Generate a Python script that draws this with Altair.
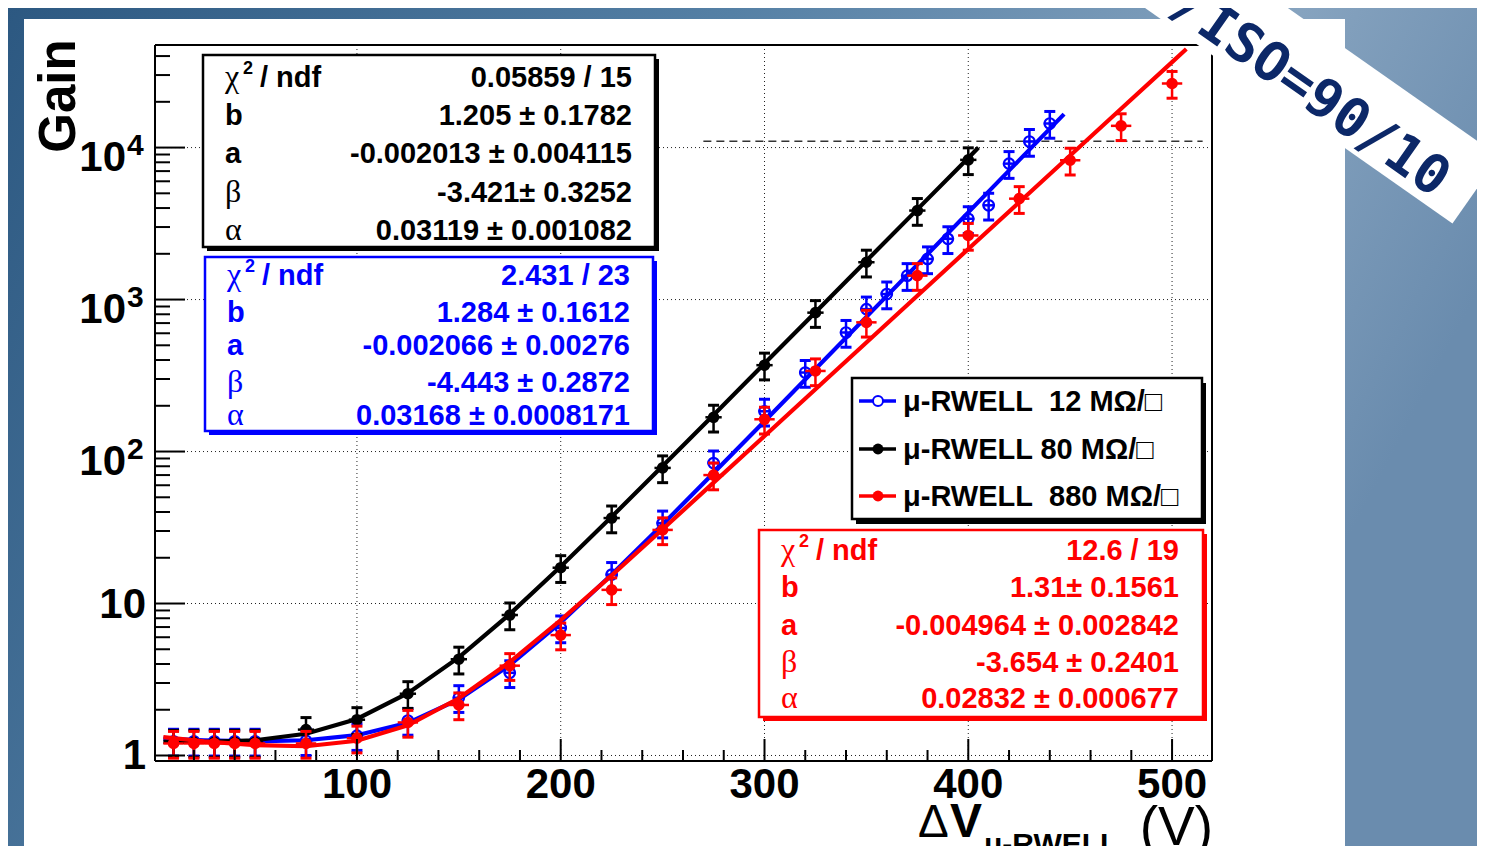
import altair as alt
import pandas as pd

# ---------------- data ----------------
# mu-RWELL 12 MOhm/sq (blue, open circles)
V_12 = [10, 20, 30, 40, 50, 75, 100, 125, 150, 175, 200, 225, 250, 275, 300,
        320, 340, 350, 360, 370, 380, 390, 400, 410, 420, 430, 440]
G_12 = [1.24, 1.24, 1.24, 1.24, 1.24, 1.25, 1.35, 1.70, 2.40, 3.50, 6.9, 15.5, 33.8, 84, 184,
        331, 607, 865, 1087, 1436, 1850, 2510, 3400, 4170, 7840, 10960, 14400]
# mu-RWELL 80 MOhm/sq (black)
V_80 = [10, 20, 30, 40, 50, 75, 100, 125, 150, 175, 200, 225, 250, 275, 300, 325, 350, 375, 400]
G_80 = [1.22, 1.22, 1.22, 1.22, 1.22, 1.48, 1.72, 2.55, 4.3, 8.4, 17.2, 36.5, 78, 168, 370,
        820, 1760, 3850, 8300]
# mu-RWELL 880 MOhm/sq (red)
V_880 = [10, 20, 30, 40, 50, 75, 100, 125, 150, 175, 200, 225, 250, 275, 300, 325, 350, 375,
         400, 425, 450, 475, 500]
G_880 = [1.20, 1.20, 1.20, 1.20, 1.20, 1.20, 1.30, 1.65, 2.15, 3.90, 6.2, 12.3, 30.5, 70, 163,
         339, 708, 1437, 2640, 4610, 8250, 13900, 26400]

# fitted curves
FIT_V_12 = [5, 25, 50, 75, 100, 125, 150, 175, 200, 225, 250, 275, 300, 325, 350, 375, 400, 425, 447]
FIT_G_12 = [1.29, 1.26, 1.24, 1.26, 1.36, 1.64, 2.34, 3.93, 7.51, 15.5, 33.1, 72.2, 158, 349, 769,
            1697, 3746, 8270, 16600]
FIT_V_80 = [5, 10, 25, 50, 75, 100, 125, 150, 175, 200, 225, 250, 275, 300, 325, 350, 375, 400, 405]
FIT_G_80 = [1.23, 1.23, 1.23, 1.26, 1.39, 1.74, 2.57, 4.42, 8.52, 17.5, 37.2, 80.3, 174, 379, 825,
            1800, 3920, 8550, 10000]
FIT_V_880 = [5, 25, 50, 75, 100, 125, 150, 175, 200, 225, 250, 275, 300, 325, 350, 375, 400, 425,
             450, 475, 500, 507]
FIT_G_880 = [1.32, 1.24, 1.17, 1.15, 1.25, 1.58, 2.38, 4.12, 7.78, 15.3, 30.8, 62.4, 126.5, 257, 522,
             1060, 2150, 4370, 8870, 18000, 36500, 44500]

REL_ERR = 0.2          # relative gain error (vertical bars)
V_ERR_12, V_ERR_80, V_ERR_880 = 3, 4, 5   # voltage error (horizontal bars)

DASH_V = [270, 515]
DASH_G = [11000, 11000]

X_MAJOR = [100, 200, 300, 400, 500]
X_LABELS = ["100", "200", "300", "400", "500"]
X_MINOR = [20, 40, 60, 80, 120, 140, 160, 180, 220, 240, 260, 280, 320, 340, 360, 380,
           420, 440, 460, 480]
Y_MAJOR = [1, 10, 100, 1000, 10000]
Y_BASE = ["1", "10", "10", "10", "10"]
Y_SUP = ["", "", "2", "3", "4"]
Y_MINOR = [2, 3, 4, 5, 6, 7, 8, 9, 20, 30, 40, 50, 60, 70, 80, 90,
           200, 300, 400, 500, 600, 700, 800, 900,
           2000, 3000, 4000, 5000, 6000, 7000, 8000, 9000, 20000, 30000, 40000]

PAR_NAMES = ["χ2", "b", "a", "β", "α"]
VAL_80 = ["0.05859 / 15", "1.205 ± 0.1782", "-0.002013 ± 0.004115", "-3.421± 0.3252", "0.03119 ± 0.001082"]
VAL_12 = ["2.431 / 23", "1.284 ± 0.1612", "-0.002066 ± 0.00276", "-4.443 ± 0.2872", "0.03168 ± 0.0008171"]
VAL_880 = ["12.6 / 19", "1.31± 0.1561", "-0.004964 ± 0.002842", "-3.654 ± 0.2401", "0.02832 ± 0.000677"]

LEGEND = ["μ-RWELL\u00a0 12 MΩ/□", "μ-RWELL 80 MΩ/□", "μ-RWELL\u00a0 880 MΩ/□"]
BANNER = "/ISO=90/10"

BLUE, BLACK, RED = "#0000ff", "#000000", "#ff0000"

# ---------------- layout helpers ----------------
FONT = "Liberation Sans, Arial, DejaVu Sans"
SERIF = "Liberation Serif, DejaVu Serif"
OX, OY = 155, 45          # page position of the plot origin
W, H = 1057, 716

XS = alt.Scale(domain=[0.9, 519.6], nice=False, zero=False)
YS = alt.Scale(type="log", domain=[0.92, 47300], nice=False)


def X(f):
    return alt.X(f, type="quantitative", scale=XS, axis=None)


def Y(f):
    return alt.Y(f, type="quantitative", scale=YS, axis=None)


ONE = pd.DataFrame({"k": [0]})


def px(x):
    return x - OX


def py(y):
    return y - OY


def text(s, x, y, size=27, weight="bold", align="left", color="black",
         baseline="alphabetic", font=FONT, angle=0):
    kw = dict(text=s, fontSize=size, fontWeight=weight, align=align,
              baseline=baseline, color=color, font=font)
    if angle:
        kw["angle"] = angle
    return alt.Chart(ONE).mark_text(**kw).encode(x=alt.value(px(x)), y=alt.value(py(y)))


def rect(x0, y0, x1, y1, fill, stroke=None, sw=0):
    kw = dict(fill=fill)
    if stroke:
        kw["stroke"] = stroke
        kw["strokeWidth"] = sw
    return alt.Chart(ONE).mark_rect(**kw).encode(
        x=alt.value(px(x0)), x2=alt.value(px(x1)), y=alt.value(py(y0)), y2=alt.value(py(y1)))


def seg(x0, y0, x1, y1, color="black", sw=2, dash=None):
    kw = dict(color=color, strokeWidth=sw, strokeCap="butt")
    if dash:
        kw["strokeDash"] = dash
    return alt.Chart(ONE).mark_rule(**kw).encode(
        x=alt.value(px(x0)), x2=alt.value(px(x1)), y=alt.value(py(y0)), y2=alt.value(py(y1)))


layers = []

# slide background + white panel
grad = alt.LinearGradient(
    gradient="linear", x1=0, x2=1, y1=0, y2=0.3,
    stops=[alt.GradientStop(offset=0, color="#2c5881"),
           alt.GradientStop(offset=0.45, color="#5580a5"),
           alt.GradientStop(offset=0.8, color="#86a3bf"),
           alt.GradientStop(offset=1, color="#6a8cae")])
layers.append(alt.Chart(ONE).mark_rect(fill=grad).encode(
    x=alt.value(-150), x2=alt.value(1340), y=alt.value(-40), y2=alt.value(810)))
layers.append(rect(24, 19, 1345, 860, "white"))

# grid
gx = pd.DataFrame({"v": X_MAJOR})
gy = pd.DataFrame({"g": Y_MAJOR})
layers.append(alt.Chart(gx).mark_rule(color="#222", strokeWidth=1, strokeDash=[1, 3]).encode(
    x=X("v"), y=alt.value(0), y2=alt.value(H)))
layers.append(alt.Chart(gy).mark_rule(color="#222", strokeWidth=1, strokeDash=[1, 3]).encode(
    y=Y("g"), x=alt.value(0), x2=alt.value(W)))

# dashed reference line
layers.append(alt.Chart(pd.DataFrame({"V": DASH_V, "G": DASH_G})).mark_line(
    color="#333", strokeWidth=1.5, strokeDash=[8, 5]).encode(x=X("V"), y=Y("G")))


def series(V, G, FV, FG, color, filled, vx):
    d = pd.DataFrame({"V": V, "G": G})
    d["lo"] = d["G"] * (1 - REL_ERR)
    d["hi"] = d["G"] * (1 + REL_ERR)
    d["vl"] = d["V"] - vx
    d["vr"] = d["V"] + vx
    f = pd.DataFrame({"V": FV, "G": FG})
    b = alt.Chart(d)
    return [
        b.mark_rule(color=color, strokeWidth=2.5).encode(x=X("V"), y=Y("lo"), y2="hi:Q"),
        b.mark_rule(color=color, strokeWidth=2.5).encode(x=X("vl"), x2="vr:Q", y=Y("G")),
        b.mark_tick(orient="horizontal", color=color, size=11, thickness=3, opacity=1).encode(
            x=X("V"), y=Y("hi")),
        b.mark_tick(orient="horizontal", color=color, size=11, thickness=3, opacity=1).encode(
            x=X("V"), y=Y("lo")),
        b.mark_point(shape="circle", filled=filled, size=135 if filled else 110, color=color,
                     strokeWidth=2.2, opacity=1).encode(x=X("V"), y=Y("G")),
        alt.Chart(f).mark_line(color=color, strokeWidth=4.2).encode(x=X("V"), y=Y("G")),
    ]


layers += series(V_12, G_12, FIT_V_12, FIT_G_12, BLUE, False, V_ERR_12)
layers += series(V_80, G_80, FIT_V_80, FIT_G_80, BLACK, True, V_ERR_80)
layers += series(V_880, G_880, FIT_V_880, FIT_G_880, RED, True, V_ERR_880)

VS = 29  # stats value font size


# stats boxes
def stats_box(box, left, right, baselines, values, color):
    x0, y0, x1, y1 = box
    out = [rect(x0 + 4, y0 + 4, x1 + 4, y1 + 4, color),
           rect(x0, y0, x1, y1, "white", color, 2.5)]
    for name, val, yb in zip(PAR_NAMES, values, baselines):
        if name == "χ2":
            out.append(text("χ", left, yb, size=32, weight="normal", color=color, font=SERIF))
            out.append(text("2", left + 18, yb - 13, size=18, color=color))
            out.append(text("/ ndf", left + 35, yb, size=VS, color=color))
        elif name in ("β", "α"):
            out.append(text(name, left, yb, size=32, weight="normal", color=color, font=SERIF))
        else:
            out.append(text(name, left, yb, size=VS, color=color))
        out.append(text(val, right, yb, size=VS, align="right", color=color))
    return out


layers += stats_box((203, 55, 655, 247), 225, 632, [87, 125, 163, 202, 240], VAL_80, BLACK)
layers += stats_box((205, 257, 653, 431), 227, 630, [285, 322, 355, 392, 425], VAL_12, BLUE)
layers += stats_box((759, 530, 1203, 717), 781, 1179, [560, 597, 635, 672, 708], VAL_880, RED)

# legend
layers.append(rect(856, 383, 1206, 524, "black"))
layers.append(rect(852, 378, 1202, 519, "white", "black", 2.5))
for label, color, filled, yc in zip(LEGEND, [BLUE, BLACK, RED], [False, True, True], [401, 449, 496]):
    layers.append(seg(859, yc, 896, yc, color, 3.5))
    layers.append(alt.Chart(ONE).mark_point(shape="circle", filled=filled, size=120 if filled else 100,
                                            color=color, strokeWidth=2, opacity=1,
                                            fill="white" if not filled else color).encode(
        x=alt.value(px(878)), y=alt.value(py(yc))))
    layers.append(text(label, 903, yc + 10, size=29))

# frame
layers.append(seg(OX, OY, OX, OY + H, sw=2))
layers.append(seg(OX, OY + H, OX + W, OY + H, sw=2))
layers.append(seg(OX + W, OY, OX + W, OY + H, sw=2))
layers.append(seg(OX, OY, OX + W, OY, sw=2))

# ticks (inward)
layers.append(alt.Chart(pd.DataFrame({"v": X_MAJOR})).mark_rule(color="black", strokeWidth=2).encode(
    x=X("v"), y=alt.value(H), y2=alt.value(H - 22)))
layers.append(alt.Chart(pd.DataFrame({"v": X_MINOR})).mark_rule(color="black", strokeWidth=2).encode(
    x=X("v"), y=alt.value(H), y2=alt.value(H - 11)))
layers.append(alt.Chart(pd.DataFrame({"g": Y_MAJOR})).mark_rule(color="black", strokeWidth=2).encode(
    y=Y("g"), x=alt.value(0), x2=alt.value(30)))
layers.append(alt.Chart(pd.DataFrame({"g": Y_MINOR})).mark_rule(color="black", strokeWidth=2).encode(
    y=Y("g"), x=alt.value(0), x2=alt.value(15)))

# tick labels
layers.append(alt.Chart(pd.DataFrame({"v": X_MAJOR, "t": X_LABELS})).mark_text(
    font=FONT, fontSize=42, fontWeight="bold", align="center", baseline="alphabetic",
    color="black").encode(x=X("v"), y=alt.value(H + 37), text="t:N"))
ylab = pd.DataFrame({"g": Y_MAJOR, "b": Y_BASE, "s": Y_SUP})
plain = ylab[ylab["s"] == ""]
expo = ylab[ylab["s"] != ""]
layers.append(alt.Chart(plain).mark_text(
    font=FONT, fontSize=42, fontWeight="bold", align="right", baseline="alphabetic", dy=14,
    color="black").encode(y=Y("g"), x=alt.value(-9), text="b:N"))
layers.append(alt.Chart(expo).mark_text(
    font=FONT, fontSize=42, fontWeight="bold", align="right", baseline="alphabetic", dy=23,
    color="black").encode(y=Y("g"), x=alt.value(-29), text="b:N"))
layers.append(alt.Chart(expo).mark_text(
    font=FONT, fontSize=30, fontWeight="bold", align="left", baseline="alphabetic", dy=7,
    color="black").encode(y=Y("g"), x=alt.value(-28), text="s:N"))

# axis titles
layers.append(text("Gain", 75, 96, size=51, align="center", angle=270))
layers.append(text("Δ", 918, 837, size=46, weight="normal"))
layers.append(text("V", 950, 837, size=48))
layers.append(text("μ-RWELL", 984, 854, size=30))
layers.append(text("(V)", 1213, 845, size=55, weight="normal", align="right"))

# banner
layers.append(seg(1148, -40, 1476, 190, "white", 82))
layers.append(text(BANNER, 1310, 92, size=54, font="DejaVu Sans Mono", align="center",
                   baseline="middle", color="#0c2868", angle=35))

chart = alt.layer(*layers).properties(
    width=W, height=H,
    padding={"left": OX - 8, "top": OY - 8, "right": 1469 - (OX - 8) - W, "bottom": 838 - (OY - 8) - H},
    autosize=alt.AutoSizeParams(type="none"),
    background="#4a769d",
).configure_view(strokeWidth=0)

chart.save("out.html", embed_options={"renderer": "svg", "actions": False})
